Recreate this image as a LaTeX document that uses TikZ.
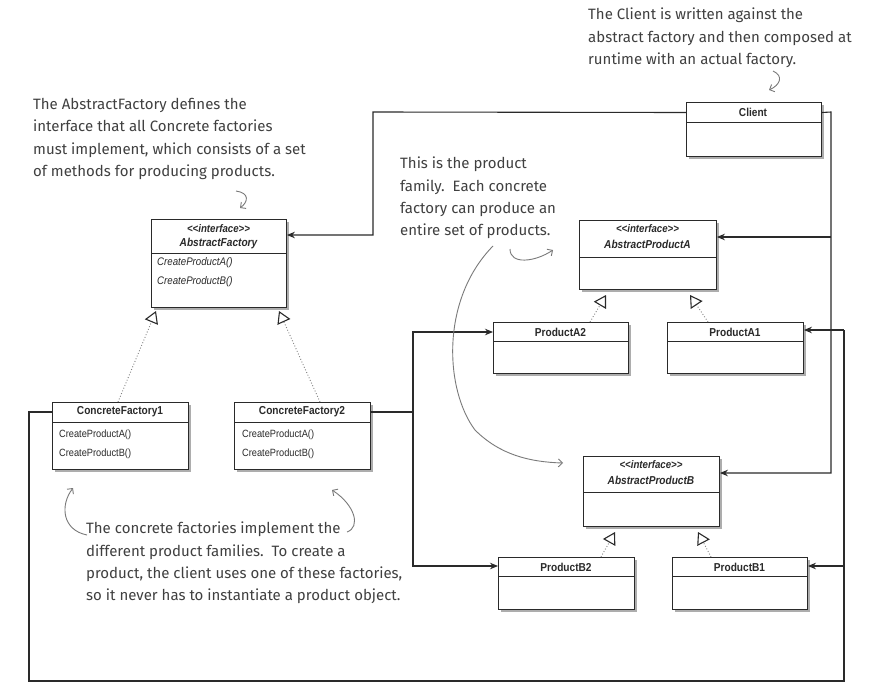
\documentclass[tikz,border=0pt]{standalone}
\usepackage{fontspec}
\setmainfont{Liberation Sans}
\newfontfamily\umlfont[FakeStretch=0.88]{Liberation Sans}
\newfontfamily\hand{Fira Sans}
\usetikzlibrary{arrows.meta,shadows}
\definecolor{ink}{HTML}{2A2A2A}
\definecolor{note}{HTML}{404040}
\definecolor{notearrow}{HTML}{7A7A7A}
\tikzset{
  cls/.style={draw=ink, line width=0.9pt, fill=white, inner sep=0pt,
    drop shadow={shadow xshift=2.5pt, shadow yshift=-3pt, fill=black, opacity=0.32}},
  divl/.style={draw=ink, line width=0.8pt},
  ttl/.style={font=\umlfont\fontsize{11.5}{13}\selectfont\bfseries, inner sep=0pt, text=ink},
  stereo/.style={font=\umlfont\fontsize{11}{13}\selectfont\bfseries\itshape, inner sep=0pt, text=ink},
  ittl/.style={font=\umlfont\fontsize{11.5}{13}\selectfont\bfseries\itshape, inner sep=0pt, text=ink},
  meth/.style={font=\umlfont\fontsize{10.5}{12}\selectfont, inner sep=0pt, anchor=west, text=ink},
  imeth/.style={font=\umlfont\fontsize{11}{13}\selectfont\itshape, inner sep=0pt, anchor=west, text=ink},
  conn/.style={draw=ink, line width=1.1pt, -{Stealth[length=8pt,width=6.5pt]}},
  plain/.style={draw=ink, line width=1.1pt},
  real/.style={draw=ink!60, line width=0.9pt, dotted, -{Triangle[open,length=12pt,width=14pt,line width=1.1pt,color=ink]}},
  notetext/.style={font=\hand\fontsize{15}{22.3}\selectfont, text=note, align=left, inner sep=0pt, anchor=north west},
  notearr/.style={draw=notearrow, line width=0.9pt, -{Straight Barb[length=4pt,width=8pt]}}
}
\begin{document}
\begin{tikzpicture}[x=1pt,y=-1pt]
\useasboundingbox[fill=white] (0,0) rectangle (870,688);

% ---------- classes ----------
% Client
\node[cls, minimum width=135pt, minimum height=54pt, anchor=north west] (client) at (686,102) {};
\draw[divl] (client.west |- 0,122) -- (client.east |- 0,122);
\node[ttl] (clientT) at (753,112.5) {Client};

% AbstractFactory
\node[cls, minimum width=135pt, minimum height=88pt, anchor=north west] (af) at (151,219) {};
\draw[divl] (af.west |- 0,253) -- (af.east |- 0,253);
\node[stereo] (afS) at (218.5,229) {{<}{<}interface{>}{>}};
\node[ittl] (afT) at (218.5,244) {AbstractFactory};
\node[imeth] (afM1) at (157,263) {CreateProductA()};
\node[imeth] (afM2) at (157,282) {CreateProductB()};

% ConcreteFactory1
\node[cls, minimum width=136pt, minimum height=67pt, anchor=north west] (cf1) at (52,402) {};
\draw[divl] (cf1.west |- 0,422) -- (cf1.east |- 0,422);
\node[ttl] (cf1T) at (120,412) {ConcreteFactory1};
\node[meth] (cf1M1) at (59,435) {CreateProductA()};
\node[meth] (cf1M2) at (59,454) {CreateProductB()};

% ConcreteFactory2
\node[cls, minimum width=136pt, minimum height=67pt, anchor=north west] (cf2) at (234,402) {};
\draw[divl] (cf2.west |- 0,422) -- (cf2.east |- 0,422);
\node[ttl] (cf2T) at (302,412) {ConcreteFactory2};
\node[meth] (cf2M1) at (242,435) {CreateProductA()};
\node[meth] (cf2M2) at (242,454) {CreateProductB()};

% AbstractProductA
\node[cls, minimum width=137pt, minimum height=69pt, anchor=north west] (apa) at (579,220) {};
\draw[divl] (apa.west |- 0,257) -- (apa.east |- 0,257);
\node[stereo] (apaS) at (647.5,229) {{<}{<}interface{>}{>}};
\node[ittl] (apaT) at (647.5,244) {AbstractProductA};

% ProductA2
\node[cls, minimum width=135pt, minimum height=51pt, anchor=north west] (pa2) at (493,322) {};
\draw[divl] (pa2.west |- 0,341) -- (pa2.east |- 0,341);
\node[ttl] (pa2T) at (560.5,332) {ProductA2};

% ProductA1
\node[cls, minimum width=136pt, minimum height=51pt, anchor=north west] (pa1) at (667,322) {};
\draw[divl] (pa1.west |- 0,341) -- (pa1.east |- 0,341);
\node[ttl] (pa1T) at (735,332) {ProductA1};

% AbstractProductB
\node[cls, minimum width=136pt, minimum height=70pt, anchor=north west] (apb) at (583,456) {};
\draw[divl] (apb.west |- 0,492) -- (apb.east |- 0,492);
\node[stereo] (apbS) at (651,465) {{<}{<}interface{>}{>}};
\node[ittl] (apbT) at (651,480) {AbstractProductB};

% ProductB2
\node[cls, minimum width=136pt, minimum height=52pt, anchor=north west] (pb2) at (498,557) {};
\draw[divl] (pb2.west |- 0,576) -- (pb2.east |- 0,576);
\node[ttl] (pb2T) at (566,567) {ProductB2};

% ProductB1
\node[cls, minimum width=135pt, minimum height=52pt, anchor=north west] (pb1) at (672,557) {};
\draw[divl] (pb1.west |- 0,576) -- (pb1.east |- 0,576);
\node[ttl] (pb1T) at (739.5,567) {ProductB1};

% ---------- realization arrows ----------
\draw[real] (cf1.north -| 118,0) -- (156,311);
\draw[real] (cf2.north -| 320,0) -- (279,311);
\draw[real] (pa2.north -| 590,0) -- (606,295);
\draw[real] (pa1.north -| 708,0) -- (690,295);
\draw[real] (pb2.north -| 601,0) -- (615,532);
\draw[real] (pb1.north -| 711,0) -- (698,532);

% ---------- associations ----------
\coordinate (j1) at (373,112);
\draw[conn] (client.west |- clientT) -- (j1) |- (af.east |- 0,235);

\coordinate (j2) at (831,112);
\draw[conn] (client.east |- clientT) -- (j2) |- (apb.east |- 0,473);
\draw[conn] (831,237) -- (apa.east |- 0,237);

\coordinate (j3) at (413,412);
\draw[plain] (cf2.east |- cf2T) -- (j3);
\draw[conn] (j3) |- (pa2.west |- 0,332);
\draw[conn] (j3) |- (pb2.west |- 0,566);

\coordinate (j4) at (29,412);
\coordinate (j5) at (29,681);
\coordinate (j6) at (844,681);
\draw[plain] (cf1.west |- cf1T) -- (j4) -- (j5) -- (j6) -- (844,330);
\draw[conn] (844,330) -- (pa1.east |- 0,330);
\draw[conn] (844,566) -- (pb1.east |- 0,566);

% ---------- notes ----------
\node[notetext] (n1) at (33,98) {The AbstractFactory defines the\\interface that all Concrete factories\\must implement, which consists of a set\\of methods for producing products.};
\node[notetext] (n2) at (588,8) {The Client is written against the\\abstract factory and then composed at\\runtime with an actual factory.};
\node[notetext] (n3) at (400,157) {This is the product\\family.\ \ Each concrete\\factory can produce an\\entire set of products.};
\node[notetext] (n4) at (86,522) {The concrete factories implement the\\different product families.\ \ To create a\\product, the client uses one of these factories,\\so it never has to instantiate a product object.};

% note arrows
\draw[notearr] (236,191) .. controls (250,193) and (248,202) .. (240,208);
\draw[notearr] (773,71) .. controls (784,76) and (780,85) .. (769,90);
\draw[notearr] (493,246) .. controls (440,300) and (445,390) .. (475,430) .. controls (500,455) and (530,462) .. (563,463);
\draw[notearr] (510,249) .. controls (510,265) and (535,262) .. (553,250);
\draw[notearr] (87,535) .. controls (62,530) and (60,505) .. (73,488);
\draw[notearr] (347,532) .. controls (361,527) and (355,505) .. (332,490);
\end{tikzpicture}
\end{document}
